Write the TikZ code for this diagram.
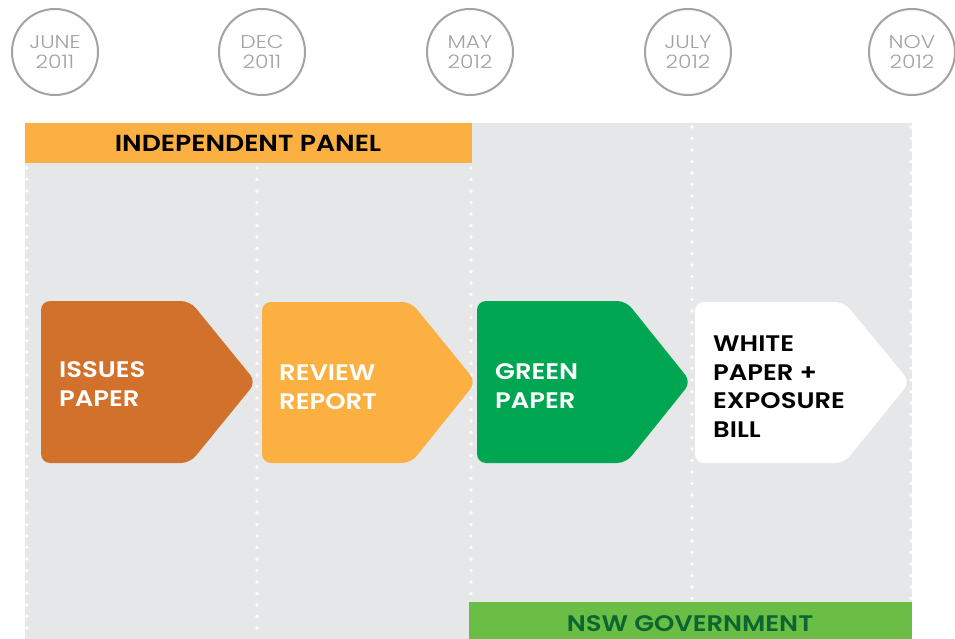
\documentclass[tikz,border=0pt]{standalone}
\usepackage{fontspec}
\setmainfont{Poppins}[FakeStretch=1.15,BoldFont={Poppins SemiBold}]
\newfontfamily\lightfont{Poppins Light}[FakeStretch=1.18]
\definecolor{bggray}{HTML}{E6E7E9}
\definecolor{circgray}{HTML}{A3A3A3}
\definecolor{darkorange}{HTML}{D2712B}
\definecolor{lightorange}{HTML}{FBB041}
\definecolor{brightgreen}{HTML}{00A651}
\definecolor{nswgreen}{HTML}{6BBE45}
\definecolor{nswtext}{HTML}{0B6631}
\begin{document}
\begin{tikzpicture}[x=1pt,y=-1pt,
  datecirc/.style={circle,draw=circgray,line width=2pt,minimum size=86pt,inner sep=0pt,
    text=circgray,align=center,font=\lightfont\fontsize{18.5}{19.5}\selectfont},
  sepline/.style={white,line width=3.6pt,line cap=round,dash pattern=on 0pt off 11.5pt},
  banner/.style={font=\bfseries\fontsize{22.5}{22.5}\selectfont,anchor=base},
  steplabel/.style={anchor=base west,align=left,inner sep=0pt,
    font=\bfseries\fontsize{22.5}{28.5}\selectfont},
  arrowshape/.style={rounded corners=9pt}
]
\useasboundingbox (0,0) rectangle (955,639);
\fill[white] (0,0) rectangle (955,639);
% date circles
\node[datecirc] (c1) at (55,52) {JUNE\\2011};
\node[datecirc] (c2) at (262,52) {DEC\\2011};
\node[datecirc] (c3) at (470,52) {MAY\\2012};
\node[datecirc] (c4) at (688,52) {JULY\\2012};
\node[datecirc] (c5) at (912,52) {NOV\\2012};
% background
\fill[bggray] (25,123) rectangle (912,639);
% bars
\fill[lightorange] (25,123) rectangle (472,163);
\node[banner,font=\bfseries\fontsize{23.2}{23}\selectfont] (ip) at (248,152) {INDEPENDENT PANEL};
\fill[nswgreen] (469,602) rectangle (912,639);
\node[banner,text=nswtext] (nsw) at (690,631) {NSW GOVERNMENT};
% dotted separators
\draw[sepline] (27,168) -- (27,639);
\draw[sepline] (257,168) -- (257,639);
\draw[sepline] (471,168) -- (471,600);
\draw[sepline] (692,127) -- (692,600);
\draw[sepline] (911,127) -- (911,600);
% arrow shapes
\fill[darkorange,arrowshape] (41,301) -- (190,301) -- (256,382) -- (190,463) -- (41,463) -- cycle;
\fill[lightorange,arrowshape] (262,302) -- (411,302) -- (476,382) -- (411,463) -- (262,463) -- cycle;
\fill[brightgreen,arrowshape] (477,301) -- (626,301) -- (691,382) -- (626,463) -- (477,463) -- cycle;
\fill[white,arrowshape] (695,302) -- (844,302) -- (910,382) -- (844,463) -- (695,463) -- cycle;
% labels (anchor = baseline of last line)
\node[steplabel,text=white] (t1) at (59,406) {ISSUES\\PAPER};
\node[steplabel,text=white] (t2) at (279,409) {REVIEW\\REPORT};
\node[steplabel,text=white] (t3) at (495,408) {GREEN\\PAPER};
\node[steplabel,text=black] (t4) at (713,437) {WHITE\\PAPER +\\EXPOSURE\\BILL};
\end{tikzpicture}
\end{document}
